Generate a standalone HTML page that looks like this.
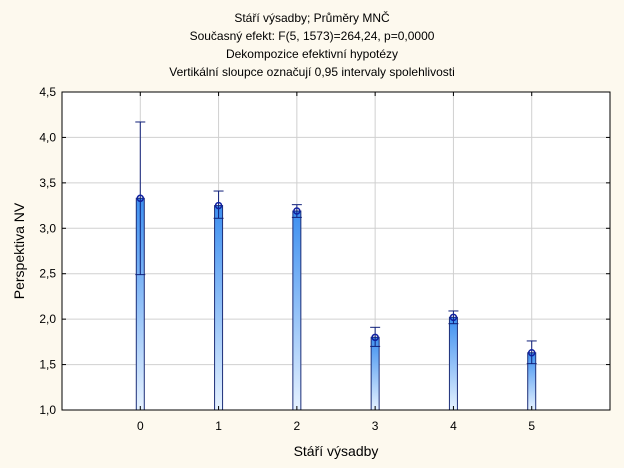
<!DOCTYPE html>
<html><head><meta charset="utf-8"><style>
body{margin:0;background:#fdf9ee;}
svg{display:block;font-family:"Liberation Sans",sans-serif;}
</style></head><body>
<svg width="624" height="468">
<defs><linearGradient id="g" x1="0" y1="0" x2="0" y2="1"><stop offset="0" stop-color="#3d8ff0"/><stop offset="1" stop-color="#e6f2ff"/></linearGradient></defs>
<rect width="624" height="468" fill="#fdf9ee"/>
<g font-size="12" fill="#000" text-anchor="middle">
<text x="312" y="22">Stáří výsadby; Průměry MNČ</text>
<text x="312" y="40">Současný efekt: F(5, 1573)=264,24, p=0,0000</text>
<text x="312" y="58">Dekompozice efektivní hypotézy</text>
<text x="312" y="76">Vertikální sloupce označují 0,95 intervaly spolehlivosti</text>
</g>
<rect x="62" y="92" width="548" height="318" fill="#fff"/>
<g id="grid"></g><g id="bars"></g>
<rect x="62" y="92" width="548" height="318" fill="none" stroke="#000"/>
<g id="axes" font-size="12"></g>
<text x="336" y="456" font-size="14" text-anchor="middle">Stáří výsadby</text>
<text transform="translate(24,251) rotate(-90)" font-size="14" text-anchor="middle">Perspektiva NV</text>
</svg>
<script>
const categories=["0","1","2","3","4","5"];
const means=[3.33,3.25,3.19,1.80,2.02,1.63];
const upper=[4.17,3.41,3.26,1.91,2.09,1.76];
const lower=[2.49,3.11,3.12,1.70,1.95,1.51];
const yTicks=["1,0","1,5","2,0","2,5","3,0","3,5","4,0","4,5"];
const NS="http://www.w3.org/2000/svg";
const X=i=>62+(i+1)*(548/7);
const Y=v=>410-(v-1)*(318/3.5);
function mk(p,t,a){const e=document.createElementNS(NS,t);for(const k in a)e.setAttribute(k,a[k]);p.appendChild(e);return e;}
const grid=document.getElementById('grid'),bars=document.getElementById('bars'),axes=document.getElementById('axes');
yTicks.forEach((t,i)=>{const y=Y(1+i*0.5);
 const l=mk(grid,'line',{x1:62,x2:610,y1:y,y2:y,stroke:'#d0d0d0'});
 
 
 mk(axes,'line',{x1:62,x2:66,y1:y,y2:y,stroke:'#000'});
 mk(axes,'line',{x1:606,x2:610,y1:y,y2:y,stroke:'#000'});
 const tx=mk(axes,'text',{x:56,y:y+4,'text-anchor':'end'});tx.textContent=t;
 
 
});
categories.forEach((c,i)=>{const x=X(i);
 const l=mk(grid,'line',{x1:x,x2:x,y1:92,y2:410,stroke:'#d0d0d0'});
 
 
 mk(axes,'line',{x1:x,x2:x,y1:92,y2:96,stroke:'#000'});
 mk(axes,'line',{x1:x,x2:x,y1:406,y2:410,stroke:'#000'});
 const tx=mk(axes,'text',{x:x,y:430,'text-anchor':'middle'});tx.textContent=c;
 
 
 const g=mk(bars,'g',{});
 
 
 mk(g,'rect',{x:x-4,y:Y(means[i]),width:8,height:410-Y(means[i]),fill:'url(#g)',stroke:'#1c2e78','stroke-width':1});
 mk(g,'line',{x1:x,x2:x,y1:Y(upper[i]),y2:Y(lower[i]),stroke:'#10207a'});
 mk(g,'line',{x1:x-5,x2:x+5,y1:Y(upper[i]),y2:Y(upper[i]),stroke:'#10207a'});
 mk(g,'line',{x1:x-5,x2:x+5,y1:Y(lower[i]),y2:Y(lower[i]),stroke:'#10207a'});
 mk(g,'circle',{cx:x,cy:Y(means[i]),r:3,fill:'none',stroke:'#1020a0','stroke-width':1.5});
});
</script>
</body></html>
